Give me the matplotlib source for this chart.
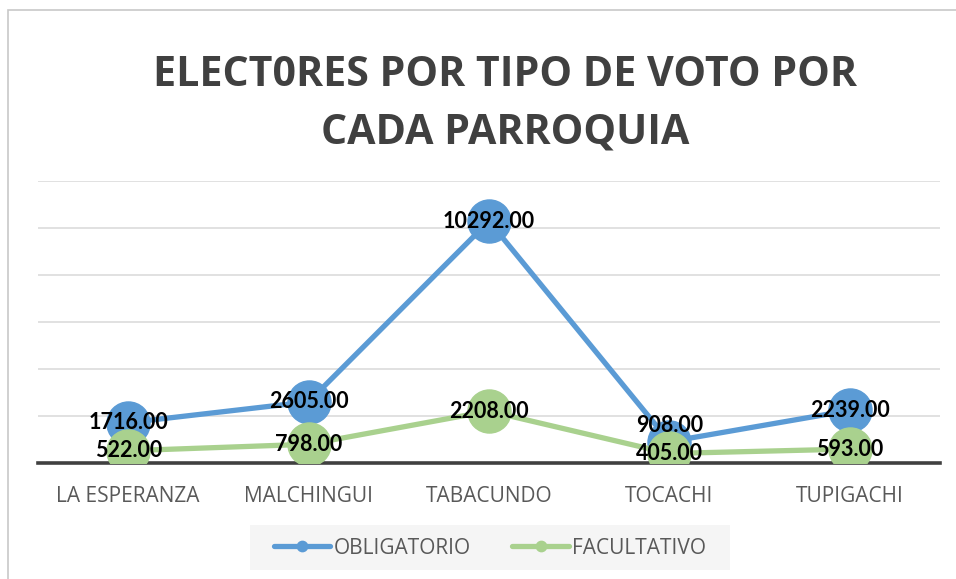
import matplotlib.pyplot as plt
from matplotlib.patches import Rectangle

# datos por parroquia
parroquias = ["LA ESPERANZA", "MALCHINGUI", "TABACUNDO", "TOCACHI", "TUPIGACHI"]
obligatorio = [1716, 2605, 10292, 908, 2239]
facultativo = [522, 798, 2208, 405, 593]

azul = "#5B9BD5"
verde = "#A9D18E"

fig = plt.figure(figsize=(9.56, 5.79), dpi=100)
W, H = 956, 579

# marco del gráfico
fig.patches.append(Rectangle((8 / W, -0.01), 1.0, 1 - 10 / H + 0.01, transform=fig.transFigure,
                             fill=False, edgecolor="#c8c8c8", linewidth=1.2))

ax = fig.add_axes([38 / W, (H - 463) / H, (940 - 38) / W, (463 - 181) / H])
x = range(len(parroquias))

ax.plot(x, obligatorio, color=azul, linewidth=3.8, marker="o", markersize=31,
        solid_capstyle="round", zorder=3, label="OBLIGATORIO")
ax.plot(x, facultativo, color=verde, linewidth=3.8, marker="o", markersize=31,
        solid_capstyle="round", zorder=4, label="FACULTATIVO")

ax.set_xlim(-0.5, len(parroquias) - 0.5)
ax.set_ylim(0, 12000)
ax.set_yticks(range(0, 12001, 2000))
ax.yaxis.grid(True, color="#d9d9d9", linewidth=1.1)
ax.set_axisbelow(True)
ax.tick_params(axis="y", left=False, labelleft=False)
ax.tick_params(axis="x", bottom=False, pad=13, labelsize=15, labelcolor="#595959")
ax.set_xticks(list(x))
ax.set_xticklabels(parroquias, fontfamily="Open Sans")
for s in ["top", "left", "right"]:
    ax.spines[s].set_visible(False)
ax.spines["bottom"].set_color("#404040")
ax.spines["bottom"].set_linewidth(2.6)
ax.spines["bottom"].set_zorder(2)

# etiquetas de datos
desplaz = {3: 700}
for i, v in enumerate(obligatorio):
    ax.text(i, v + desplaz.get(i, 0), f"{v:.2f}", ha="center", va="center",
            fontsize=15.5, fontweight="bold", fontfamily="Lato", color="black", zorder=6)
for i, v in enumerate(facultativo):
    ax.text(i, v, f"{v:.2f}", ha="center", va="center",
            fontsize=15.5, fontweight="bold", fontfamily="Lato", color="black", zorder=6)

fig.text(505 / W, 1 - 75 / H, "ELECT0RES POR TIPO DE VOTO POR", ha="center", va="center",
         fontsize=29.6, fontweight="bold", fontfamily="Open Sans", color="#404040")
fig.text(505 / W, 1 - 133 / H, "CADA PARROQUIA", ha="center", va="center",
         fontsize=29.6, fontweight="bold", fontfamily="Open Sans", color="#404040")

# leyenda con fondo gris
fig.patches.append(Rectangle((250 / W, 1 - 570 / H), 480 / W, 45 / H, transform=fig.transFigure,
                             facecolor="#f5f5f5", edgecolor="none"))
leg = fig.legend(loc="center", bbox_to_anchor=(490 / W, 1 - 548 / H), ncol=2, frameon=False,
                 prop={"family": "Open Sans", "size": 15}, labelcolor="#595959",
                 markerscale=0.24, handlelength=2.7, columnspacing=2.0, handletextpad=0.15)

fig.savefig("out.png", dpi=100)
